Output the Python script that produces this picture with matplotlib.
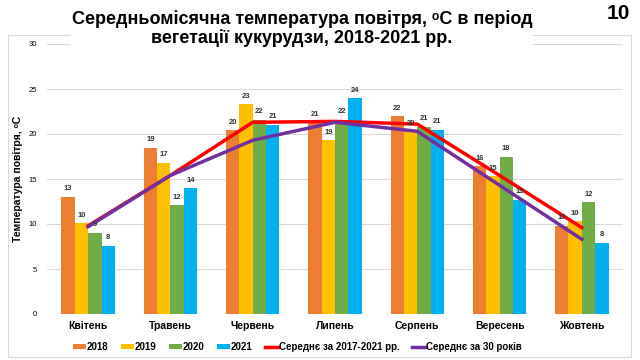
import matplotlib
matplotlib.use("Agg")
import matplotlib.pyplot as plt
import numpy as np
from matplotlib.patches import Rectangle

plt.rcParams['font.family'] = ['Liberation Sans', 'DejaVu Sans']

months = ["Квітень", "Травень", "Червень", "Липень", "Серпень", "Вересень", "Жовтень"]
y2018 = [13.0, 18.5, 20.4, 21.3, 22.0, 16.4, 9.8]
y2019 = [10.1, 16.8, 23.3, 19.3, 20.3, 15.3, 10.3]
y2020 = [9.0, 12.1, 21.6, 21.6, 20.8, 17.5, 12.4]
y2021 = [7.6, 14.0, 21.0, 24.0, 20.5, 12.7, 7.9]
avg_2017_2021 = [9.8, 15.4, 21.3, 21.4, 21.1, 15.4, 9.6]
avg_30 = [9.7, 15.4, 19.3, 21.3, 20.3, 14.3, 8.3]

series = [("2018", y2018, "#ED7D31"), ("2019", y2019, "#FFC000"),
          ("2020", y2020, "#70AD47"), ("2021", y2021, "#00B0F0")]

fig = plt.figure(figsize=(6.4, 3.6), dpi=100)
fig.patches.append(Rectangle((8/640, 3/360), 623/640, 322/360, transform=fig.transFigure,
                             fill=False, edgecolor='#D9D9D9', lw=0.8, zorder=0))
ax = fig.add_axes([47/640, 46/360, 576/640, 270/360])
x = np.arange(len(months))
w = 0.1625
for i, (name, vals, col) in enumerate(series):
    pos = x + (i - 1.5) * w
    ax.bar(pos, vals, width=w, color=col, label=name, zorder=2)
    for p, v in zip(pos, vals):
        ax.text(p, v + 0.5, f"{int(v + 0.5)}", ha='center', va='bottom', fontsize=5.5,
                fontweight='bold', color='#333333', zorder=4)

ax.plot(x, avg_2017_2021, color="#FF0000", lw=2.5, label="Середнє за 2017-2021 рр.", zorder=3)
ax.plot(x, avg_30, color="#7030A0", lw=2.5, label="Середнє за 30 років", zorder=3)

ax.set_ylim(0, 30)
ax.set_xlim(-0.5, len(months) - 0.5)
ax.set_yticks(range(0, 31, 5))
ax.set_xticks(x)
ax.set_xticklabels(months, fontsize=7.5, fontweight='bold')
ax.tick_params(axis='y', labelsize=5.5, length=0, pad=7)
ax.tick_params(axis='x', length=0, pad=5)
ax.grid(axis='y', color='#D9D9D9', lw=0.8, zorder=0)
for s in ax.spines.values():
    s.set_visible(False)
ax.axhline(0, color='#D9D9D9', lw=0.8, zorder=1)
ax.set_ylabel("Температура повітря, ᵒС", fontsize=7.5, fontweight='bold', labelpad=4)

fig.text(0.472, 0.972, "Середньомісячна температура повітря, ᵒС в період\nвегетації кукурудзи, 2018-2021 рр.",
         ha='center', va='top', fontsize=13, fontweight='bold', linespacing=1.1,
         bbox=dict(facecolor='white', edgecolor='none', pad=0.5), zorder=5)
fig.text(0.985, 0.99, "10", ha='right', va='top', fontsize=15, fontweight='bold')

h, l = ax.get_legend_handles_labels()
order = [2, 3, 4, 5, 0, 1]
h = [h[i] for i in order]
l = [l[i] for i in order]
fig.legend(h, l, loc='center', bbox_to_anchor=(0.465, 0.036), ncol=6, frameon=False,
           prop={'size': 7, 'weight': 'bold'}, handlelength=1.3, handletextpad=0.1,
           columnspacing=1.3, handleheight=0.4)

fig.savefig("out.png", dpi=100)
